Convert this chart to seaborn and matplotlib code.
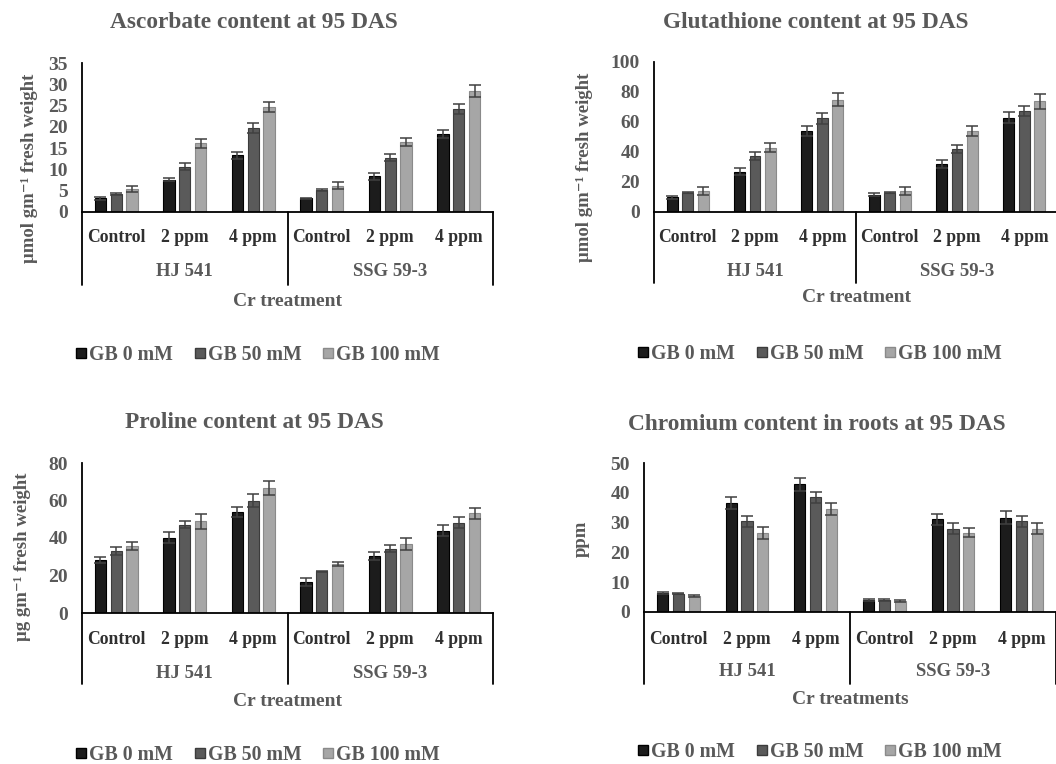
import matplotlib
matplotlib.use("Agg")
import matplotlib.pyplot as plt
from matplotlib.lines import Line2D
import seaborn as sns
import pandas as pd
import numpy as np

# ---------------- data ----------------
varieties = ["HJ 541", "SSG 59-3"]
treatments = ["Control", "2 ppm", "4 ppm"]
gb_levels = ["GB 0 mM", "GB 50 mM", "GB 100 mM"]

asc_gb0 = [3.2, 7.6, 13.3, 3.2, 8.4, 18.4]
asc_gb50 = [4.3, 10.6, 19.7, 5.2, 12.8, 24.2]
asc_gb100 = [5.4, 16.1, 24.6, 6.2, 16.5, 28.4]
asc_err0 = [0.3, 0.4, 0.8, 0.2, 0.8, 0.9]
asc_err50 = [0.2, 0.8, 1.1, 0.2, 0.8, 1.2]
asc_err100 = [0.8, 1.0, 1.2, 0.8, 1.0, 1.5]

glu_gb0 = [10, 27, 54, 11.5, 32, 63]
glu_gb50 = [13, 37.5, 62.5, 13, 42, 67.5]
glu_gb100 = [14, 43, 75, 14, 54, 74]
glu_err0 = [1, 2.5, 3.5, 1, 2.5, 3.5]
glu_err50 = [0.5, 2.5, 3.5, 0.5, 2.5, 3.5]
glu_err100 = [2.5, 3, 4.5, 2.5, 3.5, 5]

pro_gb0 = [28.3, 40.2, 53.9, 16.5, 30.4, 43.9]
pro_gb50 = [33.2, 47.1, 59.9, 22.2, 34.3, 48.2]
pro_gb100 = [35.7, 49, 66.7, 26, 36.8, 53.2]
pro_err0 = [1.8, 3, 2.5, 2, 2, 3]
pro_err50 = [2, 2, 3.5, 0.3, 1.8, 2.8]
pro_err100 = [2.2, 4, 3.8, 1, 3, 2.8]

cr_gb0 = [6.4, 36.7, 42.8, 4.1, 31.1, 31.7]
cr_gb50 = [6.2, 30.4, 38.5, 4.1, 28, 30.4]
cr_gb100 = [5.5, 26.6, 34.7, 3.6, 26.6, 28]
cr_err0 = [0.3, 2, 2.3, 0.3, 1.8, 2.3]
cr_err50 = [0.2, 1.8, 1.8, 0.3, 1.8, 1.8]
cr_err100 = [0.3, 2, 2, 0.3, 1.5, 1.8]

titles = ["Ascorbate content at 95 DAS", "Glutathione content at 95 DAS",
          "Proline content at 95 DAS", "Chromium content in roots at 95 DAS"]
ylabels = ["μmol gm⁻¹ fresh weight", "μmol gm⁻¹ fresh weight",
           "μg gm⁻¹ fresh weight", "ppm"]
xlabels = ["Cr treatment", "Cr treatment", "Cr treatment", "Cr treatments"]
yticks_list = [list(range(0, 36, 5)), list(range(0, 101, 20)),
               list(range(0, 81, 20)), list(range(0, 51, 10))]

# ---------------- style ----------------
sns.set_style("white")
FAM = ["Liberation Serif", "DejaVu Serif"]
plt.rcParams["font.family"] = FAM
plt.rcParams["font.weight"] = "bold"

GRAY = "#595959"
CATCOL = "#303030"
bar_colors = ["#1c1c1c", "#5a5a5a", "#a6a6a6"]
edge_colors = ["#000000", "#3c3c3c", "#8a8a8a"]

W, H = 1056, 764
fig = plt.figure(figsize=(W / 100, H / 100), dpi=100)

# layout in pixels: (left, right, y_zero, y_top)
layouts = [
    (82, 493, 212, 63),
    (654, 1058, 212, 62),
    (82, 493, 613, 463),
    (644, 1056, 612, 463),
]
title_pos = [(254, 23), (816, 23), (254, 423), (817, 424)]
legend_pos = [(258, 355), (820, 354), (258, 755), (820, 752)]
ylabel_pos = [(-0.107, 0.295), (-0.151, 0.295), (-0.124, 0.373), (-0.131, 0.49)]
offsets = [  # cat label, group label, separator bottom, xlabel (px below zero)
    (26, 60, 73, 90),
    (25, 60, 71, 86),
    (26, 61, 71, 88),
    (27, 60, 72, 87),
]

datasets = [
    ([asc_gb0, asc_gb50, asc_gb100], [asc_err0, asc_err50, asc_err100]),
    ([glu_gb0, glu_gb50, glu_gb100], [glu_err0, glu_err50, glu_err100]),
    ([pro_gb0, pro_gb50, pro_gb100], [pro_err0, pro_err50, pro_err100]),
    ([cr_gb0, cr_gb50, cr_gb100], [cr_err0, cr_err50, cr_err100]),
]

cat_keys = [f"{v}|{t}" for v in varieties for t in treatments]

for i, ((vals, errs), (l, r, y0, yt)) in enumerate(zip(datasets, layouts)):
    ax = fig.add_axes([l / W, 1 - y0 / H, (r - l) / W, (y0 - yt) / H])
    rows = []
    for g, lvl in enumerate(gb_levels):
        for c, key in enumerate(cat_keys):
            rows.append({"cat": key, "gb": lvl, "val": vals[g][c]})
    df = pd.DataFrame(rows)
    sns.barplot(data=df, x="cat", y="val", hue="gb", order=cat_keys,
                hue_order=gb_levels, palette=bar_colors, width=0.69, gap=0.3,
                errorbar=None, legend=False, ax=ax, saturation=1)
    bar_conts = list(ax.containers)
    for g, cont in enumerate(bar_conts):
        xs, hs = [], []
        for p in cont:
            p.set_edgecolor(edge_colors[g])
            p.set_linewidth(0.8)
            xs.append(p.get_x() + p.get_width() / 2)
            hs.append(p.get_height())
        ax.errorbar(xs, hs, yerr=errs[g], fmt="none", ecolor="#404040",
                    elinewidth=1.1, capsize=4, capthick=1.1, zorder=5)

    yt_vals = yticks_list[i]
    ax.set_ylim(0, yt_vals[-1])
    ax.set_xlim(-0.5, 5.5)
    ax.set_yticks(yt_vals)
    ax.set_yticklabels([str(v) for v in yt_vals], fontsize=14,
                       fontweight="bold", color=GRAY)
    ax.tick_params(axis="y", length=0, pad=10)
    ax.set_xticks([])
    ax.set_xlabel("")
    ax.set_ylabel(ylabels[i], fontsize=13.5, fontweight="bold", color=GRAY,
                  family=FAM)
    ax.yaxis.set_label_coords(*ylabel_pos[i])
    for s in ["top", "right"]:
        ax.spines[s].set_visible(False)
    for s in ["left", "bottom"]:
        ax.spines[s].set_color("black")
        ax.spines[s].set_linewidth(1.3)
    ax.grid(False)

    h_px = y0 - yt
    cat_off, grp_off, sep_off, xl_off = offsets[i]
    trans = ax.get_xaxis_transform()
    for xsep in [-0.5, 2.5, 5.5]:
        ax.plot([xsep, xsep], [0, -sep_off / h_px], color="black", lw=1.3,
                transform=trans, clip_on=False)
    for c, key in enumerate(cat_keys):
        t = key.split("|")[1]
        ax.text(c, -cat_off / h_px, t, transform=trans, ha="center",
                va="center", fontsize=12.7, fontweight="bold", color=CATCOL)
    for gi, v in enumerate(varieties):
        ax.text(1 + 3 * gi, -grp_off / h_px, v, transform=trans, ha="center",
                va="center", fontsize=13.5, fontweight="bold", color=GRAY)
    ax.text(2.5, -xl_off / h_px, xlabels[i], transform=trans, ha="center",
            va="center", fontsize=14, fontweight="bold", color=GRAY)

    tx, ty = title_pos[i]
    fig.text(tx / W, 1 - ty / H, titles[i], ha="center", va="center",
             fontsize=16.8, fontweight="bold", color=GRAY)

    handles = [Line2D([], [], marker="s", linestyle="none", markersize=7,
                      markerfacecolor=bar_colors[g], markeredgecolor=edge_colors[g],
                      label=gb_levels[g]) for g in range(3)]
    lx, ly = legend_pos[i]
    leg = fig.legend(handles=handles, loc="center", bbox_to_anchor=(lx / W, 1 - ly / H),
                     ncol=3, frameon=False, handlelength=0.5, handletextpad=0.15,
                     columnspacing=1.1, prop={"family": FAM, "size": 14.3, "weight": "bold"})
    for txt in leg.get_texts():
        txt.set_color(GRAY)

fig.savefig("out.png", dpi=100)
